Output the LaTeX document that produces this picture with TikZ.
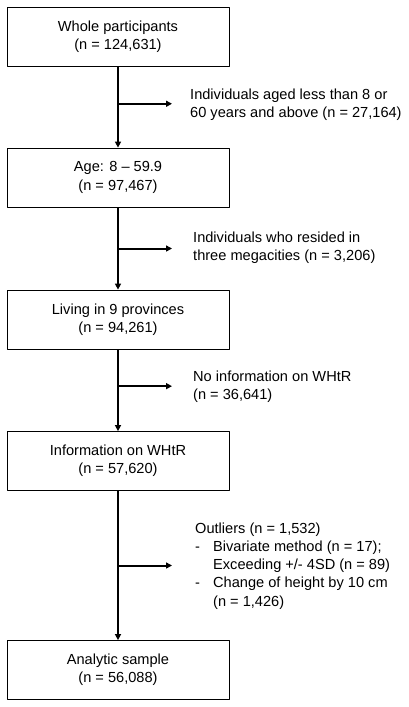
\documentclass[tikz,border=0pt]{standalone}
\usepackage{fontspec}
\setmainfont{Liberation Sans}
\usetikzlibrary{arrows.meta,calc}
\begin{document}
\begin{tikzpicture}[x=1pt, y=-1pt, line join=round,
	font=\fontsize{14.6}{18.3}\selectfont,
	box/.style={draw, line width=0.8pt, minimum width=222pt, minimum height=59pt, align=center, inner sep=0pt},
	side/.style={anchor=west, align=left, inner sep=0pt},
	flow/.style={line width=2pt, -{Triangle[length=6pt,width=6pt]}}]
	\useasboundingbox (0,0) rectangle (409,707);
	% Main boxes
	\node[box] (b1) at (118,36.5) {Whole participants\\(n = 124,631)};
	\node[box] (b2) at (118,177.5) {Age: 8 -- 59.9\\(n = 97,467)};
	\node[box] (b3) at (118,319.5) {Living in 9 provinces\\(n = 94,261)};
	\node[box] (b4) at (118,461) {Information on WHtR\\(n = 57,620)};
	\node[box] (b5) at (118,670) {Analytic sample\\(n = 56,088)};
	% Branch points on the main line
	\coordinate (c1) at ($(b1.south)!0.46!(b2.north)$);
	\coordinate (c2) at ($(b2.south)!0.5!(b3.north)$);
	\coordinate (c3) at ($(b3.south)!0.45!(b4.north)$);
	\coordinate (c4) at ($(b4.south)!0.5!(b5.north)$);
	% Excluded texts
	\node[side] (e1) at (190,105) {Individuals aged less than 8 or\\60 years and above (n = 27,164)};
	\node[side] (e2) at (193,248) {Individuals who resided in\\three megacities (n = 3,206)};
	\node[side] (e3) at (193,387) {No information on WHtR\\(n = 36,641)};
	\node[side] (e4) at (195,566) {\begin{tabular}{@{}l@{}}
		Outliers (n = 1,532)\\
		\makebox[18pt][l]{-}Bivariate method (n = 17);\\
		\makebox[18pt][l]{}Exceeding +/- 4SD (n = 89)\\
		\makebox[18pt][l]{-}Change of height by 10 cm\\
		\makebox[18pt][l]{}(n = 1,426)
	\end{tabular}};
	\foreach \i in {1,...,4}{\coordinate (t\i) at (172,0 |- c\i);}
	% Connectors
	\draw[flow] (b1) -- (b2);
	\draw[flow] (b2) -- (b3);
	\draw[flow] (b3) -- (b4);
	\draw[flow] (b4) -- (b5);
	\foreach \i in {1,...,4}{\draw[flow] (c\i) -- (t\i);}
\end{tikzpicture}
\end{document}
